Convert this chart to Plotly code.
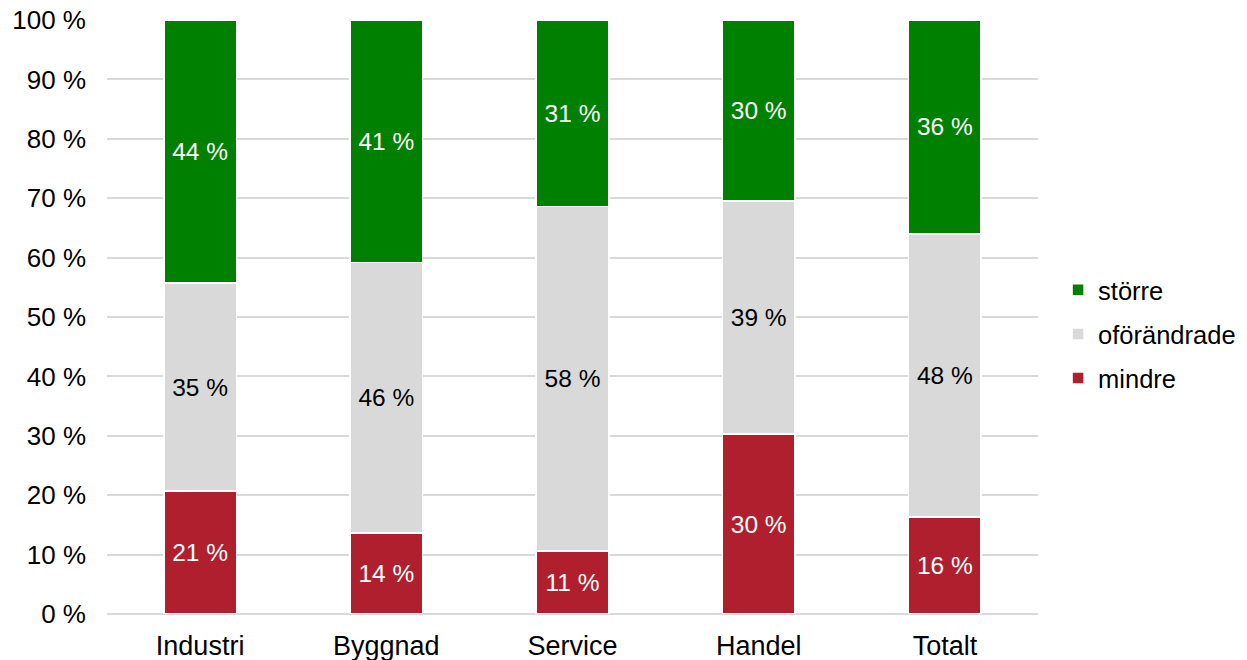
import plotly.graph_objects as go

categories = ["Industri", "Byggnad", "Service", "Handel", "Totalt"]
mindre = [20.7, 13.6, 10.6, 30.3, 16.3]
ofor = [35.0, 45.6, 58.0, 39.2, 47.7]
storre = [44.3, 40.8, 31.4, 30.5, 36.0]
labels_mindre = ["21 %", "14 %", "11 %", "30 %", "16 %"]
labels_ofor = ["35 %", "46 %", "58 %", "39 %", "48 %"]
labels_storre = ["44 %", "41 %", "31 %", "30 %", "36 %"]
tick_vals = list(range(0, 101, 10))
tick_text = [f"{v} %" for v in tick_vals]

FONT = "Liberation Sans, Arial, sans-serif"

fig = go.Figure()
series = [
    ("mindre", mindre, labels_mindre, "#B01F2E", "white", 3),
    ("oförändrade", ofor, labels_ofor, "#D9D9D9", "black", 2),
    ("större", storre, labels_storre, "#008000", "white", 1),
]
for name, vals, labs, col, tcol, rank in series:
    fig.add_trace(go.Bar(
        x=categories, y=vals, name=name, legendgroup=name, legendrank=rank,
        marker=dict(color=col, line=dict(color="white", width=1.5)),
        text=labs, textposition="inside", insidetextanchor="middle",
        textfont=dict(family=FONT, size=24.5, color=tcol),
        textangle=0, hoverinfo="skip",
    ))

# the page body adds an 8px offset at top/left
fig.update_layout(
    barmode="stack",
    bargap=0.61,
    width=1239, height=652,
    margin=dict(l=99, r=209, t=12, b=46, autoexpand=False),
    plot_bgcolor="white", paper_bgcolor="white",
    font=dict(family=FONT, size=26, color="black"),
    uniformtext=dict(mode=False),
    legend=dict(
        traceorder="grouped", xref="container", x=0.8475, y=0.471,
        xanchor="left", yanchor="middle",
        font=dict(family=FONT, size=25.5, color="black"),
        itemwidth=30, tracegroupgap=8,
    ),
    xaxis=dict(showline=False, ticks="", tickfont=dict(size=27),
               automargin=False, ticklabelstandoff=13, ticklabeloverflow="allow"),
    yaxis=dict(
        range=[0, 100], tickvals=tick_vals, ticktext=tick_text,
        showgrid=True, gridcolor="#D9D9D9", gridwidth=1.5,
        zeroline=True, zerolinecolor="#D9D9D9", zerolinewidth=1.5,
        tickfont=dict(size=26), ticks="", ticklen=0,
        automargin=False, ticklabelstandoff=20, ticklabeloverflow="allow",
    ),
)
fig.write_html("out.html")
